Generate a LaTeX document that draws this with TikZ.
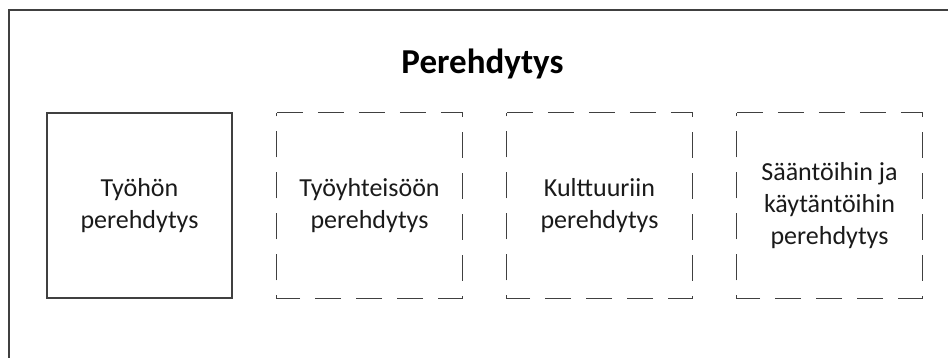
\documentclass[tikz,border=0pt]{standalone}
\usepackage{fontspec}
\setmainfont{Carlito}
\definecolor{edge}{HTML}{404040}
\definecolor{ink}{HTML}{1A1A1A}
\tikzset{
  x=1pt, y=-1pt,
  frame/.style={draw=edge, line width=1.4pt},
  card/.style={minimum width=185pt, minimum height=185pt, inner sep=0pt,
    align=center, text=ink, font=\fontsize{26}{32}\selectfont},
  solidcard/.style={card, draw=edge, line width=1.3pt},
  dashcard/.style={draw=edge, line width=1.3pt, dash pattern=on 26pt off 15pt},
  heading/.style={font=\fontsize{35}{40}\selectfont\bfseries, text=black, inner sep=0pt}
}
\begin{document}
\begin{tikzpicture}
  \useasboundingbox (0,0) rectangle (948,358);
  \clip (0,0) rectangle (948,358);
  % outer frame, running past the right and lower edges
  \draw[frame] (9,10) rectangle (980,390);

  \node[heading] (title) at (482.5,64) {Perehdytys};

  \node[solidcard] (b1) at (139.5,205.5) {Työhön\\perehdytys};
  \node[card] (b2) at (369.5,205.5) {Työyhteisöön\\perehdytys};
  \node[card] (b3) at (599.5,205.5) {Kulttuuriin\\perehdytys};
  \node[card] (b4) at (829.5,205.5) {Sääntöihin ja\\käytäntöihin\\perehdytys};

  \foreach \b in {b2,b3,b4}
    \draw[dashcard] (\b.north west) -- (\b.north east) -- (\b.south east)
      -- (\b.south west) -- cycle;
\end{tikzpicture}
\end{document}
